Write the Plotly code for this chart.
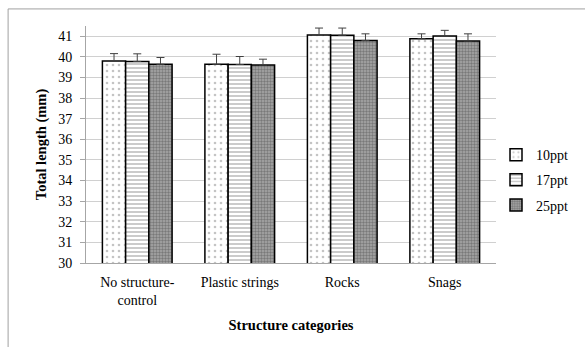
import plotly.graph_objects as go

categories = ["No structure-<br>control", "Plastic strings", "Rocks", "Snags"]
series_names = ["10ppt", "17ppt", "25ppt"]
means_10 = [39.80, 39.64, 41.06, 40.88]
means_17 = [39.78, 39.63, 41.05, 41.01]
means_25 = [39.64, 39.61, 40.80, 40.77]
err_10 = [0.36, 0.49, 0.34, 0.24]
err_17 = [0.37, 0.39, 0.35, 0.28]
err_25 = [0.33, 0.28, 0.32, 0.35]
y_ticks = list(range(30, 42))

patterns = [
    dict(shape=".", fgcolor="#8a8a8a", bgcolor="white", size=6, solidity=0.15),
    dict(shape="-", fgcolor="#6a6a6a", bgcolor="white", size=4, solidity=0.35),
    dict(shape=".", fgcolor="#4a4a4a", bgcolor="#a8a8a8", size=3, solidity=0.5),
]

fig = go.Figure()
for name, vals, errs, pat in zip(series_names, [means_10, means_17, means_25],
                                 [err_10, err_17, err_25], patterns):
    fig.add_trace(go.Bar(
        x=categories, y=vals, name=name, legendgroup=name,
        marker=dict(color="white", pattern=pat, line=dict(color="black", width=1.5)),
        error_y=dict(type="data", array=errs, arrayminus=[0]*len(errs),
                     color="#404040", thickness=1, width=4),
    ))

font_family = "Liberation Serif, Times New Roman, serif"
fig.update_layout(
    width=585, height=347,
    margin=dict(l=86, r=75, t=26, b=84),
    paper_bgcolor="white", plot_bgcolor="white",
    barmode="group", bargap=0.32, bargroupgap=0,
    font=dict(family=font_family, size=14, color="black"),
    xaxis=dict(
        showline=True, linecolor="#a6a6a6", linewidth=1,
        tickfont=dict(size=14), ticklabelstandoff=6,
        title=dict(text="<b>Structure categories</b>", font=dict(size=14.5), standoff=12),
    ),
    yaxis=dict(
        range=[30, 41.5], tickvals=y_ticks, ticktext=[str(v) for v in y_ticks],
        showgrid=True, gridcolor="#d0d0d0", gridwidth=1,
        showline=True, linecolor="#a6a6a6", linewidth=1,
        ticks="outside", ticklen=5, tickcolor="#a6a6a6",
        tickfont=dict(size=14), zeroline=False, ticklabelstandoff=5,
        title=dict(text="<b>Total length (mm)</b>", font=dict(size=14.5), standoff=8),
    ),
    legend=dict(x=1.0, y=0.35, xanchor="left", yanchor="middle",
                font=dict(size=14), tracegroupgap=4, bgcolor="rgba(0,0,0,0)"),
    shapes=[dict(type="rect", xref="paper", yref="paper",
                 x0=-0.19, x1=1.4, y0=-0.6, y1=1.072,
                 line=dict(color="#a0a0a0", width=1), fillcolor="rgba(0,0,0,0)",
                 layer="below")],
)

fig.write_html("out.html")
